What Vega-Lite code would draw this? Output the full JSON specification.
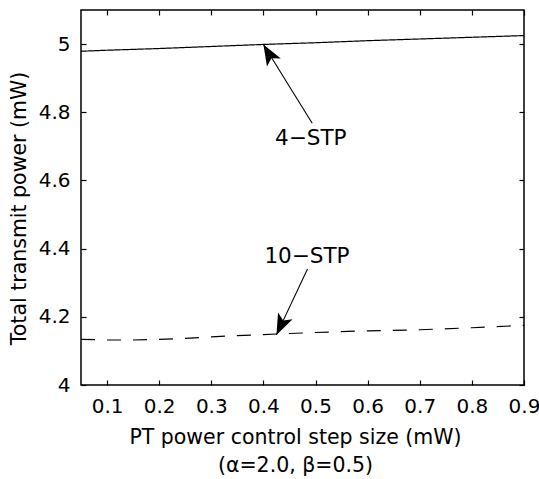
{
  "$schema": "https://vega.github.io/schema/vega-lite/v6.json",
  "autosize": "none",
  "width": 443,
  "height": 375,
  "padding": {"left": 81, "top": 10, "right": 15, "bottom": 94},
  "background": "white",
  "config": {
    "font": "DejaVu Sans",
    "view": {"stroke": "black", "strokeWidth": 1.5}
  },
  "datasets": {
    "lines": [
      {"x": 0.05, "y": 4.979, "series": "4-STP"},
      {"x": 0.1, "y": 4.982, "series": "4-STP"},
      {"x": 0.2, "y": 4.987, "series": "4-STP"},
      {"x": 0.3, "y": 4.993, "series": "4-STP"},
      {"x": 0.4, "y": 4.999, "series": "4-STP"},
      {"x": 0.5, "y": 5.004, "series": "4-STP"},
      {"x": 0.6, "y": 5.010, "series": "4-STP"},
      {"x": 0.7, "y": 5.015, "series": "4-STP"},
      {"x": 0.8, "y": 5.020, "series": "4-STP"},
      {"x": 0.9, "y": 5.025, "series": "4-STP"},
      {"x": 0.05, "y": 4.134, "series": "10-STP"},
      {"x": 0.1, "y": 4.132, "series": "10-STP"},
      {"x": 0.15, "y": 4.132, "series": "10-STP"},
      {"x": 0.2, "y": 4.134, "series": "10-STP"},
      {"x": 0.25, "y": 4.137, "series": "10-STP"},
      {"x": 0.3, "y": 4.141, "series": "10-STP"},
      {"x": 0.35, "y": 4.145, "series": "10-STP"},
      {"x": 0.4, "y": 4.148, "series": "10-STP"},
      {"x": 0.45, "y": 4.151, "series": "10-STP"},
      {"x": 0.5, "y": 4.154, "series": "10-STP"},
      {"x": 0.6, "y": 4.159, "series": "10-STP"},
      {"x": 0.7, "y": 4.162, "series": "10-STP"},
      {"x": 0.8, "y": 4.168, "series": "10-STP"},
      {"x": 0.9, "y": 4.175, "series": "10-STP"}
    ],
    "notes": [
      {"label": "4−STP", "tx": 0.491, "ty": 4.704, "ax": 0.4936, "ay": 4.768, "hx": 0.4, "hy": 4.999},
      {"label": "10−STP", "tx": 0.4836, "ty": 4.358, "ax": 0.4846, "ay": 4.340, "hx": 0.425, "hy": 4.147}
    ]
  },
  "resolve": {"axis": {"x": "independent", "y": "independent"}},
  "layer": [
    {
      "data": {"name": "lines"},
      "mark": {"type": "line", "color": "black", "strokeWidth": 1.2},
      "encoding": {
        "x": {"field": "x", "type": "quantitative", "scale": {"domain": [0.05, 0.9], "nice": false, "zero": false},
          "axis": {"orient": "bottom", "values": [0.1, 0.2, 0.3, 0.4, 0.5, 0.6, 0.7, 0.8, 0.9], "format": ".1f",
            "grid": false, "domain": false, "ticks": true, "tickSize": -5, "tickColor": "black", "tickWidth": 1.2, "tickOpacity": 1,
            "labelPadding": 16, "labelFontSize": 20, "labelColor": "black", "labelFont": "DejaVu Sans", "labelFlush": false, "labelOverlap": false,
            "title": ["PT power control step size (mW)", "(α=2.0, β=0.5)"], "titleFont": "DejaVu Sans", "titleFontSize": 20.5, "titleFontWeight": "normal", "titleColor": "black",
            "titleX": 214, "titleY": 58, "titleBaseline": "alphabetic", "titleAlign": "center", "titleLineHeight": 28}},
        "y": {"field": "y", "type": "quantitative", "scale": {"domain": [4, 5.1], "nice": false, "zero": false},
          "axis": {"orient": "left", "values": [4, 4.2, 4.4, 4.6, 4.8, 5], "format": "~g",
            "grid": false, "domain": false, "ticks": true, "tickSize": -5, "tickColor": "black", "tickWidth": 1.2, "tickOpacity": 1,
            "labelPadding": 16, "labelFontSize": 20, "labelColor": "black", "labelFont": "DejaVu Sans", "labelFlush": false, "labelOverlap": false,
            "title": "Total transmit power (mW)", "titleFont": "DejaVu Sans", "titleFontSize": 20.5, "titleFontWeight": "normal", "titleColor": "black",
            "titleX": -56, "titleY": 198, "titleAngle": -90, "titleBaseline": "alphabetic", "titleAlign": "center"}},
        "detail": {"field": "series"},
        "strokeDash": {"field": "series", "type": "nominal", "scale": {"domain": ["4-STP", "10-STP"], "range": [[1, 0], [14, 12]]}, "legend": null}
      }
    },
    {
      "data": {"name": "notes"},
      "mark": {"type": "rule", "color": "black", "strokeWidth": 1.1},
      "encoding": {
        "x": {"field": "ax", "type": "quantitative", "scale": {"domain": [0.05, 0.9], "nice": false, "zero": false}, "axis": null},
        "y": {"field": "ay", "type": "quantitative", "scale": {"domain": [4, 5.1], "nice": false, "zero": false}, "axis": null},
        "x2": {"field": "hx"},
        "y2": {"field": "hy"}
      }
    },
    {
      "data": {"name": "notes"},
      "transform": [{"filter": "datum.label == '4−STP'"}],
      "mark": {"type": "point", "filled": true, "color": "black", "opacity": 1, "size": 400, "angle": 330, "shape": "M0,0L0.8,2.1L0,1.6L-0.8,2.1Z"},
      "encoding": {
        "x": {"field": "hx", "type": "quantitative", "scale": {"domain": [0.05, 0.9], "nice": false, "zero": false}, "axis": null},
        "y": {"field": "hy", "type": "quantitative", "scale": {"domain": [4, 5.1], "nice": false, "zero": false}, "axis": null}
      }
    },
    {
      "data": {"name": "notes"},
      "transform": [{"filter": "datum.label == '10−STP'"}],
      "mark": {"type": "point", "filled": true, "color": "black", "opacity": 1, "size": 400, "angle": 205, "shape": "M0,0L0.8,2.1L0,1.6L-0.8,2.1Z"},
      "encoding": {
        "x": {"field": "hx", "type": "quantitative", "scale": {"domain": [0.05, 0.9], "nice": false, "zero": false}, "axis": null},
        "y": {"field": "hy", "type": "quantitative", "scale": {"domain": [4, 5.1], "nice": false, "zero": false}, "axis": null}
      }
    },
    {
      "data": {"name": "notes"},
      "mark": {"type": "text", "color": "black", "fontSize": 21.5, "font": "DejaVu Sans", "align": "center", "baseline": "alphabetic"},
      "encoding": {
        "x": {"field": "tx", "type": "quantitative", "scale": {"domain": [0.05, 0.9], "nice": false, "zero": false},
          "axis": {"orient": "top", "values": [0.1, 0.2, 0.3, 0.4, 0.5, 0.6, 0.7, 0.8, 0.9], "grid": false, "domain": false, "ticks": true, "tickSize": -5, "tickColor": "black", "tickWidth": 1.2, "tickOpacity": 1, "labels": false, "title": null}},
        "y": {"field": "ty", "type": "quantitative", "scale": {"domain": [4, 5.1], "nice": false, "zero": false},
          "axis": {"orient": "right", "values": [4, 4.2, 4.4, 4.6, 4.8, 5], "grid": false, "domain": false, "ticks": true, "tickSize": -5, "tickColor": "black", "tickWidth": 1.2, "tickOpacity": 1, "labels": false, "title": null}},
        "text": {"field": "label"}
      }
    }
  ]
}
